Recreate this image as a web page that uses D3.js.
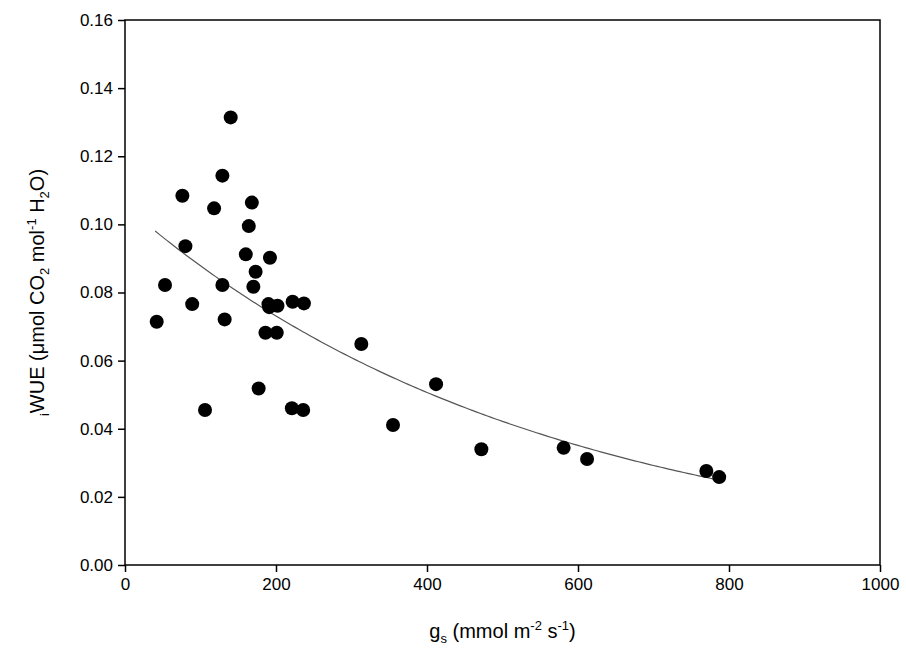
<!DOCTYPE html>
<html lang="en">
<head>
  <meta charset="UTF-8">
  <title>iWUE vs gs</title>
  <style>
    body { margin: 0; background: #fff; font-family: "Liberation Sans", Arial, sans-serif; }
    .tick text { font-size: 17px; font-family: "Liberation Sans", Arial, sans-serif; fill: #000; }
    .lab { font-size: 20px; fill: #000; }
  </style>
</head>
<body>
  <svg id="chart" width="906" height="658"></svg>
  <script src="https://d3js.org/d3.v7.min.js"></script>
  <script>
    // Data
    const gs = [140, 129, 76, 118, 168, 164, 80, 160, 192, 173, 53, 129, 170, 89, 190, 191, 202, 222, 237,
                42, 132, 186, 201, 177, 106, 221, 236, 313, 355, 412, 472, 581, 612, 770, 787];
    const wue = [0.1314, 0.1143, 0.1084, 0.1047, 0.1064, 0.0995, 0.0936, 0.0912, 0.0902, 0.0861, 0.0822, 0.0822,
                 0.0817, 0.0766, 0.0766, 0.0757, 0.0761, 0.0773, 0.0768, 0.0714, 0.0721, 0.0682, 0.0682, 0.0518,
                 0.0455, 0.0460, 0.0455, 0.0649, 0.0411, 0.0531, 0.0340, 0.0344, 0.0311, 0.0276, 0.0258];
    const xTicks = [0, 200, 400, 600, 800, 1000];
    const yTicks = [0, 0.02, 0.04, 0.06, 0.08, 0.10, 0.12, 0.14, 0.16];
    // exponential regression y = a * exp(-b x), drawn over the data range
    const fit = { a: 0.1055, b: 0.001834, from: 40, to: 787 };

    const svg = d3.select("#chart");
    const margin = { top: 20, right: 26, bottom: 93, left: 125 };
    const width = 906 - margin.left - margin.right;
    const height = 658 - margin.top - margin.bottom;
    const g = svg.append("g").attr("transform", `translate(${margin.left},${margin.top})`);

    const x = d3.scaleLinear().domain([0, 1000]).range([0, width]);
    const y = d3.scaleLinear().domain([0, 0.16]).range([height, 0]);

    // frame
    g.append("rect").attr("width", width).attr("height", height)
      .attr("fill", "none").attr("stroke", "#000").attr("stroke-width", 1.5);

    g.append("g").attr("transform", `translate(0,${height})`)
      .call(d3.axisBottom(x).tickValues(xTicks).tickSize(7).tickPadding(6).tickFormat(d3.format("d")))
      .call(a => a.select(".domain").remove())
      .selectAll("line").attr("stroke-width", 1.5);

    g.append("g")
      .call(d3.axisLeft(y).tickValues(yTicks).tickSize(7).tickPadding(5).tickFormat(d3.format(".2f")))
      .call(a => a.select(".domain").remove())
      .selectAll("line").attr("stroke-width", 1.5);

    // fitted curve
    const curvePts = d3.range(fit.from, fit.to + 1, 5).map(v => [v, fit.a * Math.exp(-fit.b * v)]);
    g.append("path").datum(curvePts)
      .attr("fill", "none").attr("stroke", "#555").attr("stroke-width", 1.2)
      .attr("d", d3.line().x(d => x(d[0])).y(d => y(d[1])));

    g.selectAll("circle").data(gs).join("circle")
      .attr("cx", d => x(d)).attr("cy", (d, i) => y(wue[i])).attr("r", 7).attr("fill", "#000");

    // x label
    const xl = svg.append("text").attr("class", "lab").attr("text-anchor", "middle")
      .attr("x", margin.left + width / 2).attr("y", 638);
    xl.append("tspan").text("g");
    xl.append("tspan").attr("dy", 5).attr("font-size", 13).text("s");
    xl.append("tspan").attr("dy", -5).text(" (mmol m");
    xl.append("tspan").attr("dy", -8).attr("font-size", 13).text("-2");
    xl.append("tspan").attr("dy", 8).text(" s");
    xl.append("tspan").attr("dy", -8).attr("font-size", 13).text("-1");
    xl.append("tspan").attr("dy", 8).text(")");

    // y label
    const yl = svg.append("text").attr("class", "lab").attr("text-anchor", "middle")
      .attr("transform", `translate(44,${margin.top + height / 2}) rotate(-90)`);
    yl.append("tspan").attr("dy", 5).attr("font-size", 13).text("i");
    yl.append("tspan").attr("dy", -5).text("WUE (\u03bcmol CO");
    yl.append("tspan").attr("dy", 5).attr("font-size", 13).text("2");
    yl.append("tspan").attr("dy", -5).text(" mol");
    yl.append("tspan").attr("dy", -8).attr("font-size", 13).text("-1");
    yl.append("tspan").attr("dy", 8).text(" H");
    yl.append("tspan").attr("dy", 5).attr("font-size", 13).text("2");
    yl.append("tspan").attr("dy", -5).text("O)");
  </script>
</body>
</html>
